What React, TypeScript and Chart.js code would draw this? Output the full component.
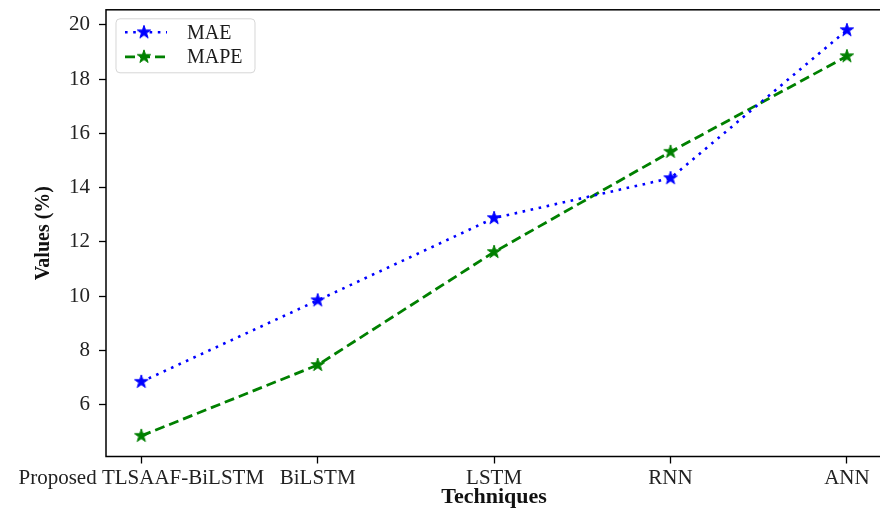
import React, { useEffect, useRef } from 'react';
import { Chart, registerables } from 'chart.js';
Chart.register(...registerables);

const techniques = ['Proposed TLSAAF-BiLSTM', 'BiLSTM', 'LSTM', 'RNN', 'ANN'];
const maeValues = [6.85, 9.85, 12.88, 14.35, 19.8];
const mapeValues = [4.86, 7.47, 11.63, 15.32, 18.84];
const yTickValues = [6, 8, 10, 12, 14, 16, 18, 20];
const seriesNames = ['MAE', 'MAPE'];

function makeStar(color: string, r = 7) {
  const size = 18;
  const c = document.createElement('canvas');
  c.width = size;
  c.height = size;
  const ctx = c.getContext('2d')!;
  const inner = r * 0.381966;
  ctx.beginPath();
  for (let i = 0; i < 10; i++) {
    const rad = i % 2 === 0 ? r : inner;
    const a = -Math.PI / 2 + (i * Math.PI) / 5;
    const x = size / 2 + rad * Math.cos(a);
    const y = size / 2 + rad * Math.sin(a);
    if (i === 0) ctx.moveTo(x, y);
    else ctx.lineTo(x, y);
  }
  ctx.closePath();
  ctx.fillStyle = color;
  ctx.fill();
  ctx.strokeStyle = color;
  ctx.lineWidth = 1;
  ctx.stroke();
  return c;
}

export default function App() {
  const ref = useRef<HTMLCanvasElement>(null);
  useEffect(() => {
    const canvas = ref.current!;
    const serif = "'Liberation Serif', 'Times New Roman', serif";
    const blueStar = makeStar('#0000ff');
    const greenStar = makeStar('#008000');
    const styles = [
      { color: '#0000ff', dash: [2.6, 5.6], width: 2.6, star: blueStar },
      { color: '#008000', dash: [10, 5], width: 2.8, star: greenStar },
    ];

    const boxPlugin = {
      id: 'boxAndLegend',
      afterDraw(chart: any) {
        const { ctx, chartArea: a } = chart;
        ctx.save();
        ctx.strokeStyle = '#000';
        ctx.lineWidth = 1.5;
        ctx.setLineDash([]);
        ctx.strokeRect(a.left, a.top, a.right - a.left, a.bottom - a.top);

        // legend
        const bx = a.left + 10;
        const by = a.top + 9;
        const bw = 139;
        const bh = 54;
        const r = 4;
        ctx.beginPath();
        ctx.moveTo(bx + r, by);
        ctx.lineTo(bx + bw - r, by);
        ctx.quadraticCurveTo(bx + bw, by, bx + bw, by + r);
        ctx.lineTo(bx + bw, by + bh - r);
        ctx.quadraticCurveTo(bx + bw, by + bh, bx + bw - r, by + bh);
        ctx.lineTo(bx + r, by + bh);
        ctx.quadraticCurveTo(bx, by + bh, bx, by + bh - r);
        ctx.lineTo(bx, by + r);
        ctx.quadraticCurveTo(bx, by, bx + r, by);
        ctx.closePath();
        ctx.fillStyle = 'rgba(255,255,255,0.8)';
        ctx.fill();
        ctx.strokeStyle = 'rgba(204,204,204,0.8)';
        ctx.lineWidth = 1;
        ctx.stroke();

        const rows = [by + 13.5, by + 38];
        seriesNames.forEach((name, i) => {
          const s = styles[i];
          const y = rows[i];
          ctx.beginPath();
          ctx.setLineDash(s.dash);
          ctx.strokeStyle = s.color;
          ctx.lineWidth = s.width;
          ctx.moveTo(bx + 9, y);
          ctx.lineTo(bx + 51, y);
          ctx.stroke();
          ctx.setLineDash([]);
          ctx.drawImage(s.star, bx + 28 - s.star.width / 2, y - s.star.height / 2);
          ctx.fillStyle = '#1a1a1a';
          ctx.font = `20px ${serif}`;
          ctx.textBaseline = 'middle';
          ctx.textAlign = 'left';
          ctx.fillText(name, bx + 71, y + 1);
        });
        ctx.restore();
      },
    };

    const seriesData = [maeValues, mapeValues];
    const chart = new Chart(canvas, {
      type: 'line',
      data: {
        datasets: seriesNames.map((name, i) => ({
          label: name,
          data: seriesData[i].map((v, k) => ({ x: k, y: v })),
          borderColor: styles[i].color,
          backgroundColor: styles[i].color,
          borderWidth: styles[i].width,
          borderDash: styles[i].dash,
          pointStyle: styles[i].star as any,
          pointRadius: 7,
          pointHoverRadius: 7,
          fill: false,
          tension: 0,
        })),
      },
      options: {
        responsive: false,
        animation: false,
        devicePixelRatio: 1,
        layout: { padding: { left: 8, top: 9, right: 6, bottom: 0 } },
        plugins: { legend: { display: false }, tooltip: { enabled: false } },
        scales: {
          x: {
            type: 'linear',
            min: -0.2,
            max: 4.2,
            afterBuildTicks: (s: any) => {
              s.ticks = techniques.map((_, i) => ({ value: i }));
            },
            afterFit: (s: any) => {
              s.height = 54.5;
              s.paddingLeft = 0;
              s.paddingRight = 0;
            },
            ticks: {
              callback: (v: any) => techniques[Math.round(Number(v))],
              font: { family: serif, size: 21 },
              color: '#222',
              padding: 2,
              maxRotation: 0,
              autoSkip: false,
            },
            grid: {
              display: true,
              drawOnChartArea: false,
              drawTicks: true,
              tickLength: 7,
              tickColor: '#000',
              tickWidth: 1.3,
            },
            border: { display: false },
            title: {
              display: true,
              text: 'Techniques',
              font: { family: serif, size: 22, weight: 'bold' },
              color: '#111',
              padding: { top: 0, bottom: 0 },
            },
          },
          y: {
            type: 'linear',
            min: 4.1,
            max: 20.55,
            afterBuildTicks: (s: any) => {
              s.ticks = yTickValues.map((v) => ({ value: v }));
            },
            afterFit: (s: any) => {
              s.width = 98;
              s.paddingTop = 0;
              s.paddingBottom = 0;
            },
            ticks: {
              font: { family: serif, size: 21 },
              color: '#222',
              padding: 9,
            },
            grid: {
              display: true,
              drawOnChartArea: false,
              drawTicks: true,
              tickLength: 7,
              tickColor: '#000',
              tickWidth: 1.3,
            },
            border: { display: false },
            title: {
              display: true,
              text: 'Values (%)',
              font: { family: serif, size: 20, weight: 'bold' },
              color: '#111',
              padding: { top: 24, bottom: 0 },
            },
          },
        },
      },
      plugins: [boxPlugin],
    });
    return () => chart.destroy();
  }, []);

  return (
    <div
      style={{
        position: 'fixed',
        left: 0,
        top: 0,
        width: 880,
        height: 511,
        overflow: 'hidden',
        background: '#fff',
      }}
    >
      <canvas ref={ref} width={892} height={511} style={{ width: 892, height: 511, display: 'block' }} />
    </div>
  );
}
